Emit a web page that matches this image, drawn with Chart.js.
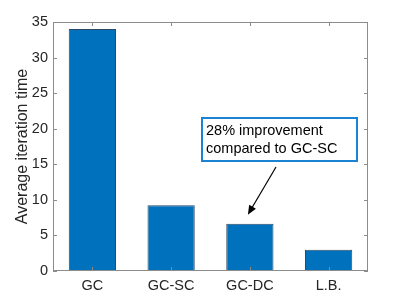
<!DOCTYPE html>
<html>
<head>
<meta charset="utf-8">
<script src="https://cdn.jsdelivr.net/npm/chart.js@4/dist/chart.umd.min.js"></script>
<style>
  html, body { margin: 0; padding: 0; background: #fff; }
  #wrap { width: 407px; height: 305px; }
</style>
</head>
<body>
<div id="wrap"><canvas id="grafico"></canvas></div>
<script>
const categories = ["GC", "GC-SC", "GC-DC", "L.B."]
const iterationTime = [34.0, 9.25, 6.65, 3.0]
const yTicks = [0, 5, 10, 15, 20, 25, 30, 35]
const noteLines = ["28% improvement", "compared to GC-SC"]

const font = "'Liberation Sans', Arial, sans-serif"

// box round the axes, inward ticks, and the text note with its arrow
const matlabAxes = {
  id: "matlabAxes",
  afterDraw(chart) {
    const { ctx, chartArea: a, scales } = chart
    ctx.save()
    ctx.strokeStyle = "#8c8c8c"
    ctx.lineWidth = 1
    ctx.strokeRect(a.left + 0.5, a.top + 0.5, a.right - a.left - 1, a.bottom - a.top - 1)
    ctx.beginPath()
    yTicks.forEach((v) => {
      const y = Math.round(scales.y.getPixelForValue(v)) + 0.5
      ctx.moveTo(a.left, y); ctx.lineTo(a.left + 4, y)
      ctx.moveTo(a.right, y); ctx.lineTo(a.right - 4, y)
    })
    categories.forEach((c, i) => {
      const x = Math.round(scales.x.getPixelForValue(i)) + 0.5
      ctx.moveTo(x, a.bottom); ctx.lineTo(x, a.bottom - 4)
      ctx.moveTo(x, a.top); ctx.lineTo(x, a.top + 4)
    })
    ctx.stroke()

    // note box
    const bx = 202, by = 118, bw = 155, bh = 43
    ctx.fillStyle = "#fff"
    ctx.fillRect(bx, by, bw, bh)
    ctx.strokeStyle = "#1b83d4"
    ctx.lineWidth = 2
    ctx.strokeRect(bx, by, bw, bh)
    ctx.fillStyle = "#000"
    ctx.font = "14.5px " + font
    ctx.textBaseline = "middle"
    ctx.textAlign = "left"
    noteLines.forEach((t, i) => ctx.fillText(t, bx + 4, by + 13 + i * 18))

    // arrow to the GC-DC bar
    const tipX = scales.x.getPixelForValue(2) - 2
    const tipY = scales.y.getPixelForValue(iterationTime[2]) - 9
    const fromX = 276, fromY = 167
    const ang = Math.atan2(tipY - fromY, tipX - fromX)
    ctx.strokeStyle = "#000"
    ctx.lineWidth = 1.2
    ctx.beginPath()
    ctx.moveTo(fromX, fromY)
    ctx.lineTo(tipX - 4 * Math.cos(ang), tipY - 4 * Math.sin(ang))
    ctx.stroke()
    ctx.fillStyle = "#000"
    ctx.beginPath()
    ctx.moveTo(tipX, tipY)
    ctx.lineTo(tipX - 10 * Math.cos(ang - 0.4), tipY - 10 * Math.sin(ang - 0.4))
    ctx.lineTo(tipX - 10 * Math.cos(ang + 0.4), tipY - 10 * Math.sin(ang + 0.4))
    ctx.closePath()
    ctx.fill()
    ctx.restore()
  },
}

const data = {
  labels: categories,
  datasets: [
    {
      label: "Average iteration time",
      data: iterationTime,
      backgroundColor: "#0072BD",
      borderColor: "#2d4a66",
      borderWidth: 1,
      barPercentage: 0.6,
      categoryPercentage: 1.0,
    },
  ],
}

const config = {
  type: "bar",
  data: data,
  plugins: [matlabAxes],
  options: {
    responsive: true,
    maintainAspectRatio: false,
    animation: false,
    layout: { padding: { top: 22, right: 39, left: 0, bottom: 0 } },
    plugins: {
      legend: { display: false },
      tooltip: { enabled: false },
    },
    scales: {
      x: {
        grid: { display: false, drawTicks: false },
        border: { display: false },
        ticks: { color: "#262626", font: { family: font, size: 14.5 }, padding: 6 },
        afterFit: (s) => { s.height = 34 },
      },
      y: {
        min: 0,
        max: 35,
        grid: { display: false, drawTicks: false },
        border: { display: false },
        ticks: {
          stepSize: 5,
          color: "#262626",
          font: { family: font, size: 14.5 },
          padding: 5,
        },
        title: {
          display: true,
          text: "Average iteration time",
          color: "#262626",
          font: { family: font, size: 16 },
          padding: { top: 12.5, bottom: 0 },
        },
        afterFit: (s) => { s.width = 53 },
      },
    },
  },
}

new Chart(document.querySelector("#grafico"), config)
</script>
</body>
</html>
